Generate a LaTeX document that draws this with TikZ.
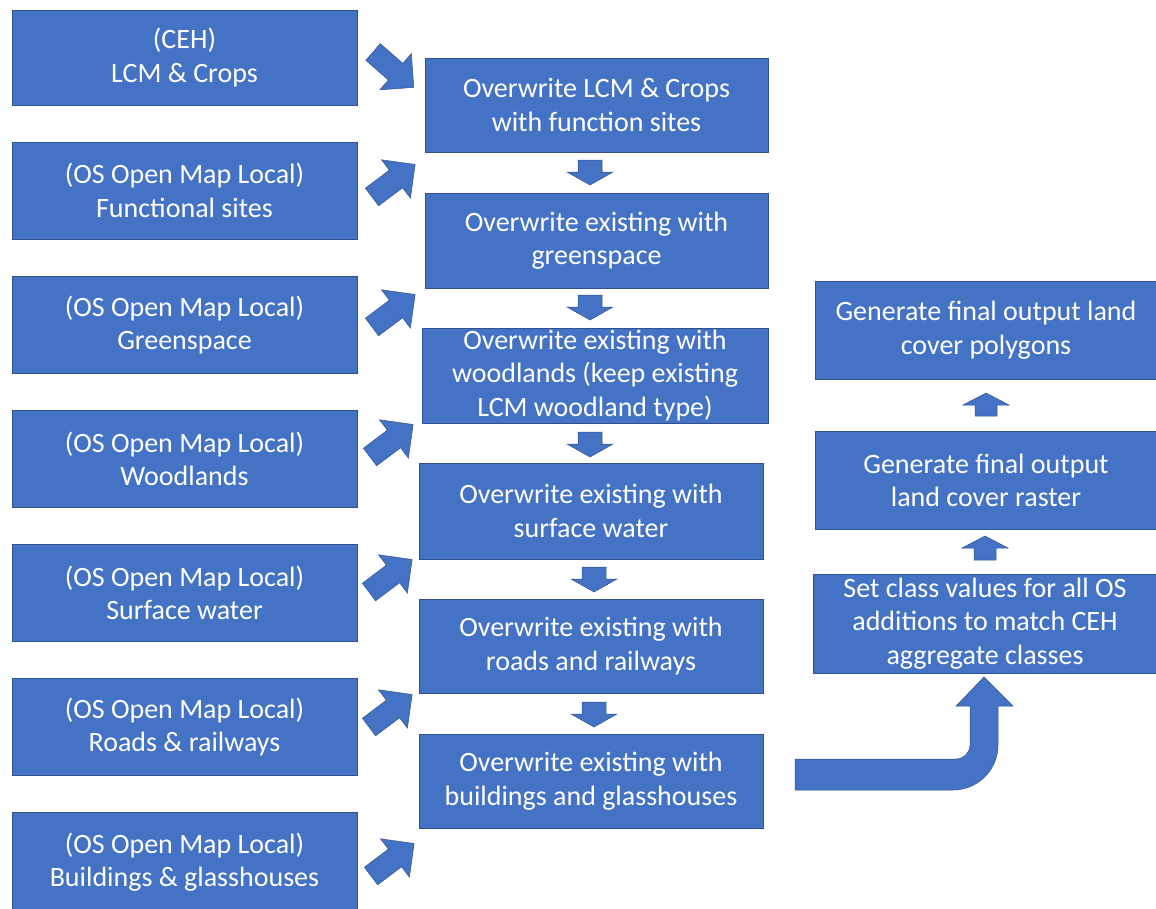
\documentclass[tikz,border=0pt]{standalone}
\usepackage{fontspec}
\setmainfont{Carlito}
\definecolor{boxblue}{HTML}{4472C4}
\definecolor{boxline}{HTML}{2F528F}
\tikzset{
  box/.style={draw=boxline, line width=0.8pt, fill=boxblue, text=white, align=center,
    inner sep=0pt, font=\fontsize{28}{33.5}\selectfont},
  lbox/.style={box, minimum width=345, minimum height=97},
  mbox/.style={box, minimum width=344, minimum height=95},
  rbox/.style={box, minimum width=342, minimum height=98},
  arr/.style={draw=boxline, line width=0.5pt, fill=boxblue},
}
% block arrow: x, y (tail centre), angle, length, shaft width, head width, head length
\newcommand\barrow[7]{\filldraw[arr,shift={(#1,#2)},rotate=#3]
  (0,-#5/2) -- ({#4-#7},-#5/2) -- ({#4-#7},-#6/2) -- (#4,0) --
  ({#4-#7},#6/2) -- ({#4-#7},#5/2) -- (0,#5/2) -- cycle;}
\begin{document}
\begin{tikzpicture}[x=1pt,y=-1pt]
\useasboundingbox (0,0) rectangle (1156,908);
\clip (0,0) rectangle (1156,908);
% left column
\node[lbox, minimum height=95] (L1) at (184.5,57.5) {(CEH)\\LCM \& Crops};
\node[lbox] (L2) at (184.5,190.5) {(OS Open Map Local)\\Functional sites};
\node[lbox] (L3) at (184.5,325) {(OS Open Map Local)\\Greenspace};
\node[lbox] (L4) at (184.5,459) {(OS Open Map Local)\\Woodlands};
\node[lbox] (L5) at (184.5,593) {(OS Open Map Local)\\Surface water};
\node[lbox] (L6) at (184.5,727) {(OS Open Map Local)\\Roads \& railways};
\node[lbox, minimum height=100] (L7) at (184.5,862) {(OS Open Map Local)\\Buildings \& glasshouses};
% middle column
\node[mbox, minimum width=343, minimum height=94] (M1) at (596.5,105) {Overwrite LCM \& Crops\\with function sites};
\node[mbox, minimum width=343] (M2) at (596.5,240.5) {Overwrite existing with\\greenspace};
\node[mbox, minimum width=346] (M3) at (595,375.5) {Overwrite existing with\\woodlands (keep existing\\LCM woodland type)};
\node[mbox, minimum height=96] (M4) at (591,511) {Overwrite existing with\\surface water};
\node[mbox, minimum height=94] (M5) at (591,646) {Overwrite existing with\\roads and railways};
\node[mbox, minimum height=94] (M6) at (591,781) {Overwrite existing with\\buildings and glasshouses};
% right column
\node[rbox] (R1) at (986,330) {Generate final output land\\cover polygons};
\node[rbox] (R2) at (986,480.5) {Generate final output\\land cover raster};
\node[rbox, minimum width=344, minimum height=99] (R3) at (985,623.5) {Set class values for all OS\\additions to match CEH\\aggregate classes};
% diagonal arrows from inputs
\barrow{373}{52}{-41}{54}{22}{48}{24}
\barrow{372}{197}{37}{54}{22}{48}{24}
\barrow{372}{327}{37}{54}{22}{48}{24}
\barrow{370}{457}{37}{54}{22}{48}{24}
\barrow{369}{592}{37}{54}{22}{48}{24}
\barrow{369}{727}{37}{54}{22}{48}{24}
\barrow{371}{876}{37}{54}{22}{48}{24}
% down arrows between steps
\barrow{590}{160}{-90}{25}{24}{46}{13}
\barrow{590}{295}{-90}{25}{24}{46}{13}
\barrow{590}{432}{-90}{25}{24}{46}{13}
\barrow{594}{567}{-90}{25}{24}{46}{13}
\barrow{594}{702}{-90}{25}{24}{46}{13}
% up arrows on right
\barrow{986}{416}{90}{23}{22}{46}{12}
\barrow{985}{560}{90}{24}{22}{46}{12}
% bent arrow from last step to class values
\filldraw[arr] (795,759) -- (956,759) arc[start angle=90, end angle=0, radius=14]
  -- (970,706) -- (956,706) -- (984,677) -- (1013,706) -- (998,706) -- (998,745)
  arc[start angle=0, end angle=90, radius=45] -- (795,790) -- cycle;
\end{tikzpicture}
\end{document}
